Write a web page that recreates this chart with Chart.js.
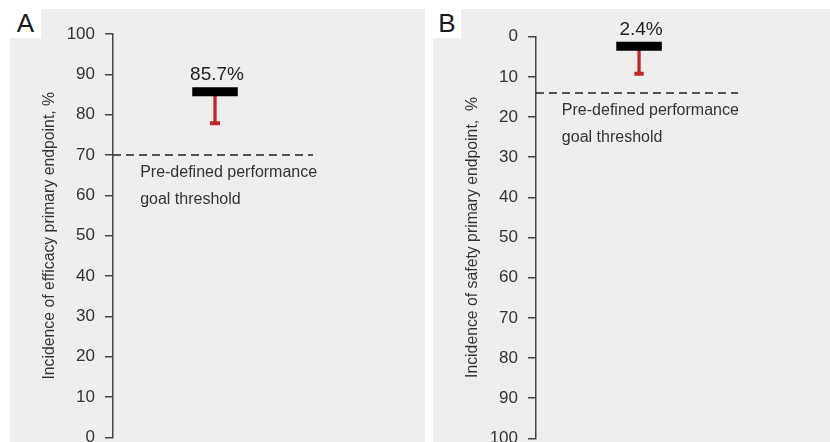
<!DOCTYPE html>
<html>
<head>
<meta charset="utf-8">
<script src="https://cdn.jsdelivr.net/npm/chart.js@4.4.1/dist/chart.umd.min.js"></script>
<style>
  html, body { margin: 0; padding: 0; background: #fff; overflow: hidden; width: 830px; height: 442px; }
  .panel { position: absolute; top: 9px; height: 440px; background: #eeeeee; }
  .tag { position: absolute; top: 9px; height: 29px; background: #fff; color: #1a1a1a;
         font: 26px "Liberation Sans", Arial, sans-serif; line-height: 29px; text-align: center; }
  canvas { position: absolute; top: 0; }
</style>
</head>
<body>
<div class="panel" style="left:10px;width:415px"></div>
<div class="panel" style="left:433px;width:397px"></div>
<div class="tag" style="left:10px;width:31px">A</div>
<div class="tag" style="left:433px;width:28px">B</div>
<canvas id="chartA" width="415" height="460" style="left:10px"></canvas>
<canvas id="chartB" width="397" height="460" style="left:433px"></canvas>
<script>
// values
const panelIds = ['chartA', 'chartB'];
const estimates = [85.7, 2.4];
const ciLimits = [77.9, 9.2];
const thresholds = [70, 14];
const pointLabels = ['85.7%', '2.4%'];
const axisTitles = ['Incidence of efficacy primary endpoint, %', 'Incidence of safety primary endpoint,  %'];
const reversedAxis = [false, true];
const noteLines = ['Pre-defined performance', 'goal threshold'];

// layout per panel (fractions of the plot width)
const layouts = [
    { top: 34, bottom: 22.5, barFrom: 0.254, barTo: 0.400, dashTo: 0.641, noteX: 0.087 },
    { top: 36.7, bottom: 21.7, barFrom: 0.273, barTo: 0.428, dashTo: 0.687, noteX: 0.088 }
];

const FONT = '"Liberation Sans", Arial, sans-serif';
const RED = '#c0262c';
const INK = '#333333';
Chart.defaults.font.family = FONT;

// draws the value label over the bar and the threshold note
const textPlugin = {
    id: 'panelText',
    afterDatasetsDraw(chart, args, opts) {
        const { ctx, scales: { x, y } } = chart;
        const centre = (opts.barFrom + opts.barTo) / 2;
        ctx.save();
        ctx.fillStyle = '#222';
        ctx.font = '19px ' + FONT;
        ctx.textAlign = 'center';
        ctx.textBaseline = 'alphabetic';
        const barTop = y.getPixelForValue(opts.estimate) - 4.5;
        ctx.fillText(opts.label, x.getPixelForValue(centre) + 2, barTop - 7);

        ctx.font = '16px ' + FONT;
        ctx.fillStyle = INK;
        ctx.textAlign = 'left';
        const ty = y.getPixelForValue(opts.threshold);
        ctx.fillText(noteLines[0], x.getPixelForValue(opts.noteX), ty + 22);
        ctx.fillText(noteLines[1], x.getPixelForValue(opts.noteX), ty + 49);
        ctx.restore();
    }
};

function buildChart(i) {
    const lay = layouts[i];
    const c = (lay.barFrom + lay.barTo) / 2;
    const est = estimates[i];
    const lo = ciLimits[i];
    const thr = thresholds[i];

    new Chart(document.getElementById(panelIds[i]), {
        type: 'line',
        data: {
            datasets: [
                {   // point estimate bar
                    data: [{ x: lay.barFrom, y: est }, { x: lay.barTo, y: est }],
                    borderColor: '#000',
                    borderWidth: 9,
                    borderCapStyle: 'butt'
                },
                {   // confidence limit
                    data: [{ x: c, y: est }, { x: c, y: lo }],
                    borderColor: RED,
                    borderWidth: 3.3,
                    borderCapStyle: 'butt'
                },
                {   // limit cap
                    data: [{ x: c - 0.016, y: lo }, { x: c + 0.016, y: lo }],
                    borderColor: RED,
                    borderWidth: 4,
                    borderCapStyle: 'butt'
                },
                {   // performance goal threshold
                    data: [{ x: 0, y: thr }, { x: lay.dashTo, y: thr }],
                    borderColor: '#222',
                    borderWidth: 1.5,
                    borderDash: [8, 5]
                }
            ]
        },
        options: {
            responsive: false,
            animation: false,
            devicePixelRatio: 1,
            layout: { padding: { top: lay.top, bottom: lay.bottom, left: 0, right: 0 } },
            elements: { point: { radius: 0, hoverRadius: 0 }, line: { tension: 0 } },
            plugins: {
                legend: { display: false },
                tooltip: { enabled: false },
                panelText: {
                    estimate: est,
                    threshold: thr,
                    label: pointLabels[i],
                    barFrom: lay.barFrom,
                    barTo: lay.barTo,
                    noteX: lay.noteX
                }
            },
            scales: {
                x: { type: 'linear', min: 0, max: 1, display: false },
                y: {
                    min: 0,
                    max: 100,
                    reverse: reversedAxis[i],
                    afterFit: (scale) => { scale.width = 103; },
                    ticks: {
                        stepSize: 10,
                        padding: 10,
                        color: INK,
                        font: { size: 17 }
                    },
                    grid: {
                        drawOnChartArea: false,
                        drawTicks: true,
                        tickLength: 8,
                        color: '#444',
                        lineWidth: 1.5
                    },
                    border: { display: true, color: '#444', width: 1.5 },
                    title: {
                        display: true,
                        text: axisTitles[i],
                        color: INK,
                        font: { size: 15.8 },
                        padding: { top: 30.5, bottom: 0 }
                    }
                }
            }
        },
        plugins: [textPlugin]
    });
}

buildChart(0);
buildChart(1);
</script>
</body>
</html>
